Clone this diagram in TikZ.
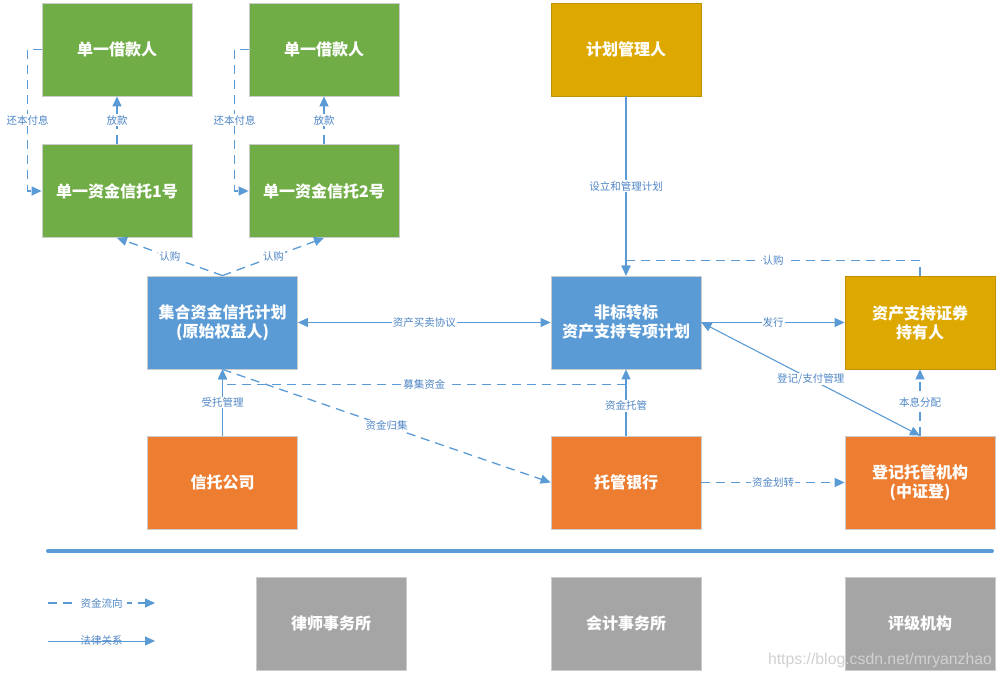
\documentclass[tikz,border=0pt]{standalone}
\usepackage{fontspec}
\setmainfont{Noto Sans CJK SC}
\newfontfamily\wmfont{Liberation Sans}
\usetikzlibrary{arrows.meta,calc}
\definecolor{cgreen}{HTML}{70AD47}
\definecolor{cblue}{HTML}{5B9BD5}
\definecolor{cgold}{HTML}{DDA900}
\definecolor{cgoldb}{HTML}{BF9000}
\definecolor{corange}{HTML}{ED7D31}
\definecolor{cgray}{HTML}{A5A5A5}
\definecolor{cline}{HTML}{5B9BD5}
\definecolor{ctext}{HTML}{4F86C6}
\begin{document}
\begin{tikzpicture}[x=1pt,y=-1pt,
  box/.style={minimum width=150pt, minimum height=93pt, inner sep=0pt, text=white,
    font=\fontsize{16}{19}\selectfont\bfseries, align=center, draw=black!20, line width=0.8pt},
  gbox/.style={box, fill=cgreen},
  bbox/.style={box, fill=cblue},
  ybox/.style={box, fill=cgold, draw=cgoldb},
  obox/.style={box, fill=corange},
  grbox/.style={box, fill=cgray},
  tip/.style={-{Triangle[length=10pt,width=9pt]}},
  tips/.style={{Triangle[length=10pt,width=9pt]}-{Triangle[length=10pt,width=9pt]}},
  legal/.style={draw=cline, line width=1.1pt, tip},
  money/.style={draw=cline, line width=1.3pt, dash pattern=on 9pt off 6pt, tip},
  lab/.style={fill=white, inner sep=1pt, text=ctext, font=\fontsize{10.5}{12}\selectfont}
]
\useasboundingbox (0,0) rectangle (1002,679);
\fill[white] (0,0) rectangle (1002,679);

% boxes
\node[gbox] (b1) at (117,49.5) {单一借款人};
\node[gbox] (b2) at (324,49.5) {单一借款人};
\node[gbox] (t1) at (117,191) {单一资金信托1号};
\node[gbox] (t2) at (324,191) {单一资金信托2号};
\node[ybox] (gl) at (626,49.5) {计划管理人};
\node[bbox] (ji) at (222.5,322.5) {集合资金信托计划\\(原始权益人)};
\node[bbox] (fb) at (626,322.5) {非标转标\\资产支持专项计划};
\node[ybox] (zc) at (920,322.5) {资产支持证券\\持有人};
\node[obox] (xt) at (222.5,482.5) {信托公司};
\node[obox] (tg) at (626,482.5) {托管银行};
\node[obox] (dj) at (920,482.5) {登记托管机构\\(中证登)};
\node[grbox] (ls) at (331,623.5) {律师事务所};
\node[grbox] (kj) at (626,623.5) {会计事务所};
\node[grbox] (pj) at (920,623.5) {评级机构};

% top-left money flows
\draw[money] (b1.west) -- ++(-14,0) coordinate (c1) |- (t1.west);
\node[lab] at ($(c1)!0.5!(c1|-t1.west)$) {还本付息};
\draw[money] (t1.north) -- node[lab] {放款} (b1.south);
\draw[money] (b2.west) -- ++(-14,0) coordinate (c2) |- (t2.west);
\node[lab] at ($(c2)!0.5!(c2|-t2.west)$) {还本付息};
\draw[money] (t2.north) -- node[lab] {放款} (b2.south);
\draw[money] (ji.north) -- node[lab] {认购} (t1.south);
\draw[money] (ji.north) -- node[lab] {认购} (t2.south);

% middle
\draw[legal, tips] (ji.east) -- node[lab] {资产买卖协议} (fb.west);
\draw[legal] (gl.south) -- node[lab] {设立和管理计划} (fb.north);
\draw[money] (zc.north) -- ++(0,-15) -| node[lab, pos=0.25] {认购} (fb.north);
\draw[legal] (fb.east) -- node[lab] {发行} (zc.west);
\draw[legal, tips] (fb.east) -- node[lab] {登记/支付管理} (dj.north);
\draw[money] (dj.north) -- node[lab] {本息分配} (zc.south);
\draw[legal] (xt.north) -- node[lab] {受托管理} (ji.south);
\draw[legal] (tg.north) -- node[lab, pos=0.45] {资金托管} (fb.south);
\draw[money] ([yshift=-15pt]fb.south) -| node[lab, pos=0.25] {募集资金} (ji.south);
\draw[money] (ji.south) -- node[lab] {资金归集} (tg.west);
\draw[money] (tg.east) -- node[lab] {资金划转} (dj.west);

% separator
\coordinate (s1) at (48,551);
\coordinate (s2) at (992,551);
\draw[cline, line width=4pt, line cap=round] (s1) -- (s2);

% legend
\coordinate (la1) at (48,603);
\coordinate (la2) at (155,603);
\coordinate (lb1) at (48,641);
\coordinate (lb2) at (155,641);
\draw[money] (la1) -- node[lab, fill=white, inner xsep=4pt] {资金流向} (la2);
\draw[legal, line width=0.9pt] (lb1) -- node[lab, fill=none] {法律关系} (lb2);

% watermark
\node[font=\wmfont\fontsize{15.8}{17}\selectfont, text=black!18, inner sep=0pt] (wm) at (880,660) {https://blog.csdn.net/mryanzhao};
\end{tikzpicture}
\end{document}
